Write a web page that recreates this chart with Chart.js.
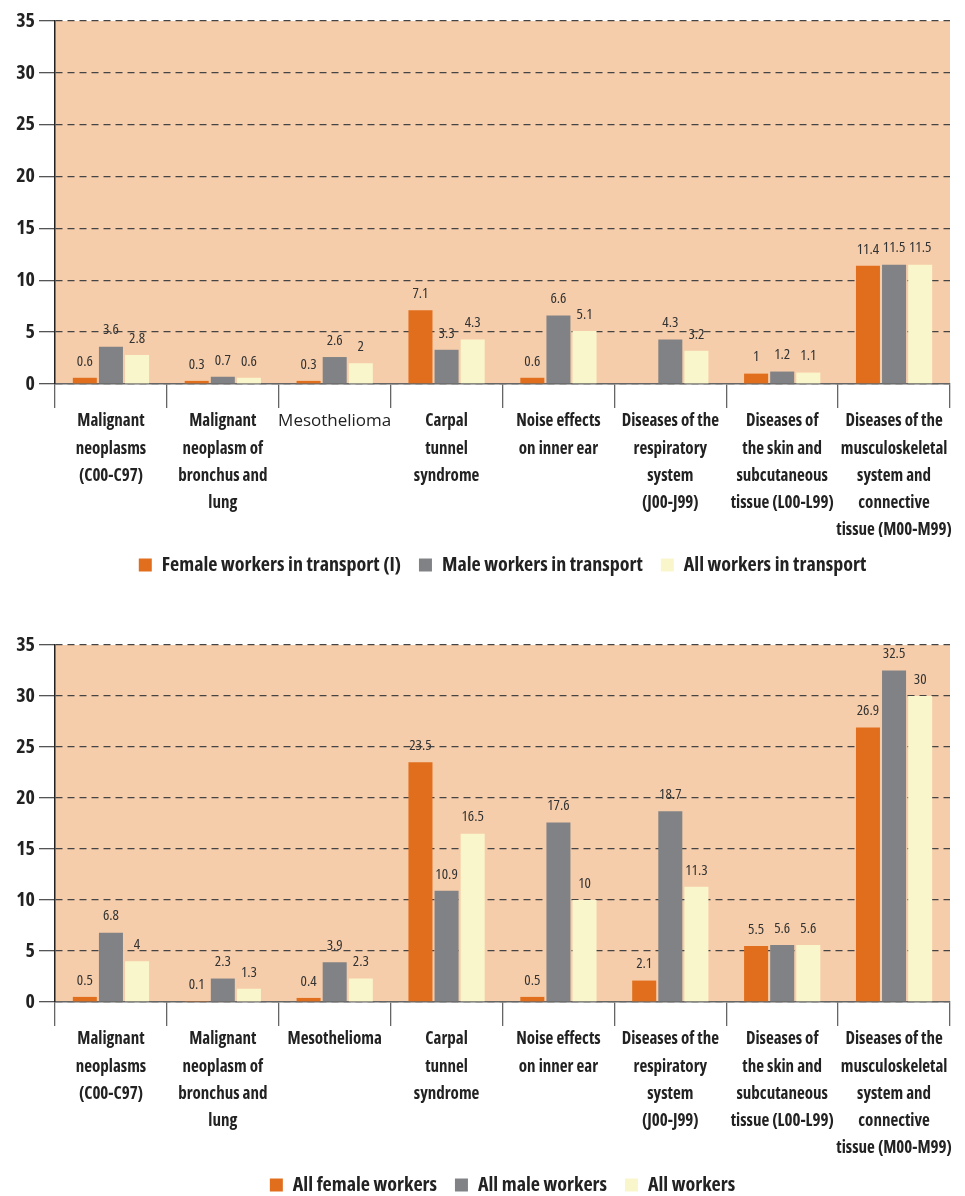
<!DOCTYPE html>
<html>
<head>
<meta charset="utf-8">
<script src="https://cdn.jsdelivr.net/npm/chart.js@4.4.1/dist/chart.umd.min.js"></script>
<style>
  html, body { margin: 0; padding: 0; background: #fff; overflow: hidden; }
  .bloque { position: absolute; left: 0; width: 965px; }
  #bloque1 { top: 0; height: 585px; }
  #bloque2 { top: 624px; height: 581px; }
</style>
</head>
<body>
<div class="bloque" id="bloque1"><canvas id="grafico1" width="965" height="585"></canvas></div>
<div class="bloque" id="bloque2"><canvas id="grafico2" width="965" height="581"></canvas></div>
<script>
// Categorías (etiquetas en varias líneas)
const categorias = [
    ["Malignant", "neoplasms", "(C00-C97)"],
    ["Malignant", "neoplasm of", "bronchus and", "lung"],
    ["Mesothelioma"],
    ["Carpal", "tunnel", "syndrome"],
    ["Noise effects", "on inner ear"],
    ["Diseases of the", "respiratory", "system", "(J00-J99)"],
    ["Diseases of", "the skin and", "subcutaneous", "tissue (L00-L99)"],
    ["Diseases of the", "musculoskeletal", "system and", "connective", "tissue (M00-M99)"]
];

// Gráfico superior: trabajadores del transporte
const leyendaTransporte = ["Female workers in transport (I)", "Male workers in transport", "All workers in transport"];
const mujeresTransporte = [0.6, 0.3, 0.3, 7.1, 0.6, null, 1, 11.4];
const hombresTransporte = [3.6, 0.7, 2.6, 3.3, 6.6, 4.3, 1.2, 11.5];
const todosTransporte = [2.8, 0.6, 2, 4.3, 5.1, 3.2, 1.1, 11.5];

// Gráfico inferior: todos los trabajadores
const leyendaTodos = ["All female workers", "All male workers", "All workers"];
const mujeresTodos = [0.5, 0.1, 0.4, 23.5, 0.5, 2.1, 5.5, 26.9];
const hombresTodos = [6.8, 2.3, 3.9, 10.9, 17.6, 18.7, 5.6, 32.5];
const todosTodos = [4, 1.3, 2.3, 16.5, 10, 11.3, 5.6, 30];

// Eje Y
const ejeMin = 0;
const ejeMax = 35;
const ejePaso = 5;

// Open Sans en versión estrecha (condensed) se parece a la fuente original
const FUENTE = "'Open Sans', 'DejaVu Sans Condensed', sans-serif";
const colores = ["#E06E1C", "#818285", "#FAF6CC"];
const fondoArea = "#F6CDAA";

// Plugin: fondo del área del gráfico
const fondoPlugin = {
    id: "fondoArea",
    beforeDraw(chart) {
        const { ctx, chartArea } = chart;
        ctx.save();
        ctx.fillStyle = fondoArea;
        ctx.fillRect(chartArea.left, chartArea.top, chartArea.right - chartArea.left, chartArea.bottom - chartArea.top);
        ctx.restore();
    }
};

// Plugin: valores encima de las barras
const etiquetasPlugin = {
    id: "etiquetasValores",
    afterDatasetsDraw(chart) {
        const { ctx } = chart;
        ctx.save();
        ctx.font = "condensed 15px " + FUENTE;
        ctx.fillStyle = "#333";
        ctx.textAlign = "center";
        ctx.textBaseline = "bottom";
        chart.data.datasets.forEach((ds, i) => {
            const meta = chart.getDatasetMeta(i);
            meta.data.forEach((barra, j) => {
                const v = ds.data[j];
                if (v === null || v === undefined) return;
                ctx.fillText(String(v), barra.x, barra.y - 9);
            });
        });
        ctx.restore();
    }
};

function crearGrafico(idCanvas, leyenda, series, altoEjeX, normalIdx) {
    const ctx = document.getElementById(idCanvas).getContext("2d");
    return new Chart(ctx, {
        type: "bar",
        data: {
            labels: categorias,
            datasets: series.map((datos, i) => ({
                label: leyenda[i],
                data: datos,
                backgroundColor: colores[i],
                barPercentage: 0.92,
                categoryPercentage: 0.7
            }))
        },
        options: {
            responsive: false,
            devicePixelRatio: 1,
            animation: false,
            layout: { padding: { top: 21, right: 15, left: 6, bottom: 0 } },
            plugins: {
                legend: {
                    position: "bottom",
                    fullSize: false,
                    labels: {
                        boxWidth: 13,
                        boxHeight: 13,
                        padding: 18,
                        color: "#222",
                        font: { family: FUENTE, size: 20, weight: "bold condensed" }
                    }
                },
                tooltip: { enabled: false }
            },
            scales: {
                x: {
                    grid: {
                        display: true,
                        drawOnChartArea: false,
                        drawTicks: true,
                        tickLength: 24,
                        color: "#666",
                        lineWidth: 1.3,
                        offset: true
                    },
                    border: { display: true, color: "#666", width: 1.5 },
                    ticks: {
                        autoSkip: false,
                        maxRotation: 0,
                        minRotation: 0,
                        padding: 0,
                        color: "#222",
                        font: (c) => ({
                            family: FUENTE,
                            size: 17,
                            weight: c.index === normalIdx ? "normal" : "bold condensed",
                            lineHeight: 1.6
                        })
                    },
                    afterFit(scale) { scale.height = altoEjeX; }
                },
                y: {
                    min: ejeMin,
                    max: ejeMax,
                    grid: {
                        color: "#444",
                        lineWidth: 1.3,
                        tickLength: 16,
                        tickColor: "#555",
                        tickBorderDash: []
                    },
                    border: { display: true, color: "#222", width: 1.5, dash: [7, 5] },
                    ticks: {
                        stepSize: ejePaso,
                        padding: 4,
                        color: "#222",
                        font: { family: FUENTE, size: 20, weight: "bold condensed" }
                    },
                    afterFit(scale) { scale.width = 49; }
                }
            }
        },
        plugins: [fondoPlugin, etiquetasPlugin]
    });
}

crearGrafico("grafico1", leyendaTransporte, [mujeresTransporte, hombresTransporte, todosTransporte], 153, 2);
crearGrafico("grafico2", leyendaTodos, [mujeresTodos, hombresTodos, todosTodos], 155, -1);
</script>
</body>
</html>
